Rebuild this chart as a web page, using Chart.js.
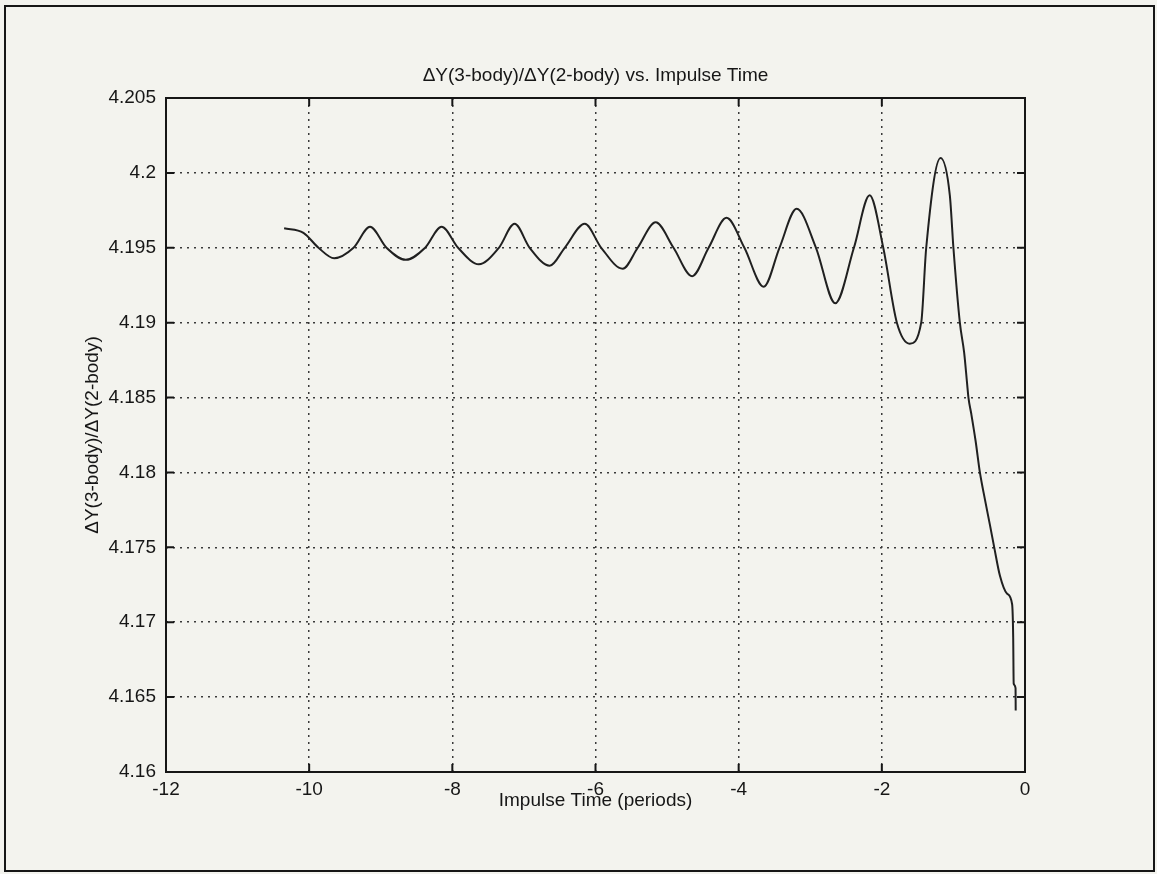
<!DOCTYPE html>
<html>
<head>
<meta charset="utf-8">
<title>dV ratio vs impulse time</title>
<script src="https://cdn.jsdelivr.net/npm/chart.js@4.4.0/dist/chart.umd.min.js"></script>
<style>
    html, body { margin: 0; padding: 0; background: #f3f3ee; }
    #wrap { width: 1157px; height: 874px; }
</style>
</head>
<body>
<div id="wrap"><canvas id="myChart" width="1157" height="874"></canvas></div>
<script>
// impulse time (periods) and dV(3-body)/dV(2-body)
const impulseTime = [
    -10.35, -10.08, -9.87, -9.65, -9.38, -9.15, -8.92, -8.65, -8.38, -8.15,
    -7.92, -7.63, -7.35, -7.13, -6.92, -6.64, -6.43, -6.15, -5.92, -5.62,
    -5.41, -5.16, -4.91, -4.65, -4.42, -4.17, -3.92, -3.65, -3.43, -3.19,
    -2.92, -2.65, -2.39, -2.17, -1.98, -1.79, -1.61, -1.45, -1.38, -1.18,
    -1.05, -1.0, -0.91, -0.85, -0.81, -0.79, -0.75, -0.69, -0.63, -0.56,
    -0.49, -0.43, -0.35, -0.25, -0.18, -0.165, -0.158, -0.132, -0.13
];
const dvRatio = [
    4.1963, 4.1960, 4.1950, 4.1943, 4.1950, 4.1964, 4.1950, 4.1942, 4.1950, 4.1964,
    4.1950, 4.1939, 4.1950, 4.1966, 4.1950, 4.1938, 4.1950, 4.1966, 4.1950, 4.1936,
    4.1950, 4.1967, 4.1950, 4.1931, 4.1950, 4.1970, 4.1950, 4.1924, 4.1950, 4.1976,
    4.1950, 4.1913, 4.1950, 4.1985, 4.1950, 4.1900, 4.1886, 4.1900, 4.1950, 4.2010,
    4.1985, 4.1950, 4.1900, 4.1880, 4.1860, 4.1850, 4.1839, 4.1821, 4.1800, 4.1782,
    4.1765, 4.1750, 4.1731, 4.1719, 4.1712, 4.1690, 4.1659, 4.1656, 4.1641
];

const xTicks = [-12, -10, -8, -6, -4, -2, 0];
const xTickLabels = ['-12', '-10', '-8', '-6', '-4', '-2', '0'];
const yTicks = [4.16, 4.165, 4.17, 4.175, 4.18, 4.185, 4.19, 4.195, 4.2, 4.205];
const yTickLabels = ['4.16', '4.165', '4.17', '4.175', '4.18', '4.185', '4.19', '4.195', '4.2', '4.205'];

const chartTitle = 'ΔY(3-body)/ΔY(2-body) vs. Impulse Time';

const FONT = "'Liberation Sans', Arial, Helvetica, sans-serif";
const INK = '#161616';

// page background, title over the axes, axes box with inward ticks, outer frame
const framePlugin = {
    id: 'frame',
    beforeDraw(chart) {
        const ctx = chart.ctx;
        ctx.save();
        ctx.fillStyle = '#f3f3ee';
        ctx.fillRect(0, 0, chart.width, chart.height);
        ctx.restore();
    },
    afterDraw(chart) {
        const {ctx, chartArea: a, scales: {x, y}} = chart;
        const len = 8;
        ctx.save();

        ctx.fillStyle = INK;
        ctx.font = '19px ' + FONT;
        ctx.textAlign = 'center';
        ctx.textBaseline = 'middle';
        ctx.fillText(chartTitle, (a.left + a.right) / 2, 76);

        ctx.strokeStyle = INK;
        ctx.lineWidth = 2;
        ctx.strokeRect(a.left, a.top, a.right - a.left, a.bottom - a.top);

        ctx.beginPath();
        x.ticks.forEach(t => {
            const px = x.getPixelForValue(t.value);
            ctx.moveTo(px, a.bottom);
            ctx.lineTo(px, a.bottom - len);
            ctx.moveTo(px, a.top);
            ctx.lineTo(px, a.top + len);
        });
        y.ticks.forEach(t => {
            const py = y.getPixelForValue(t.value);
            ctx.moveTo(a.left, py);
            ctx.lineTo(a.left + len, py);
            ctx.moveTo(a.right, py);
            ctx.lineTo(a.right - len, py);
        });
        ctx.stroke();

        ctx.lineWidth = 2;
        ctx.strokeRect(5, 6, chart.width - 8, chart.height - 9);
        ctx.restore();
    }
};

const points = impulseTime.map((t, i) => ({x: t, y: dvRatio[i]}));

const ctx = document.getElementById('myChart').getContext('2d');

const chart = new Chart(ctx, {
    type: 'line',
    data: {
        datasets: [{
            label: 'dV ratio',
            data: points,
            borderColor: '#202020',
            borderWidth: 2,
            pointRadius: 0,
            cubicInterpolationMode: 'monotone'
        }]
    },
    options: {
        responsive: false,
        animation: false,
        layout: { padding: { left: 0, top: 98, right: 132, bottom: 0 } },
        plugins: {
            legend: { display: false },
            tooltip: { enabled: false },
            title: { display: false }
        },
        scales: {
            x: {
                type: 'linear',
                min: -12,
                max: 0,
                afterBuildTicks: s => { s.ticks = xTicks.map(v => ({value: v})); },
                afterFit: s => { s.height = 102; },
                ticks: {
                    callback: (v, i) => xTickLabels[i],
                    color: INK,
                    font: { family: FONT, size: 19 },
                    padding: 6,
                    maxRotation: 0,
                    autoSkip: false
                },
                grid: { color: '#3a3a3a', lineWidth: 1.5, drawTicks: false },
                border: { display: false, dash: [2, 5] },
                title: {
                    display: true,
                    text: 'Impulse Time (periods)',
                    color: INK,
                    font: { family: FONT, size: 19 },
                    padding: { top: 0, bottom: 62 }
                }
            },
            y: {
                min: 4.16,
                max: 4.205,
                afterBuildTicks: s => { s.ticks = yTicks.map(v => ({value: v})); },
                afterFit: s => { s.width = 166; },
                ticks: {
                    callback: (v, i) => yTickLabels[i],
                    color: INK,
                    font: { family: FONT, size: 19 },
                    padding: 10,
                    autoSkip: false
                },
                grid: { color: '#3a3a3a', lineWidth: 1.5, drawTicks: false },
                border: { display: false, dash: [2, 5] },
                title: {
                    display: true,
                    text: 'ΔY(3-body)/ΔY(2-body)',
                    color: INK,
                    font: { family: FONT, size: 19 },
                    padding: { top: 81, bottom: 0 }
                }
            }
        }
    },
    plugins: [framePlugin]
});
</script>
</body>
</html>
